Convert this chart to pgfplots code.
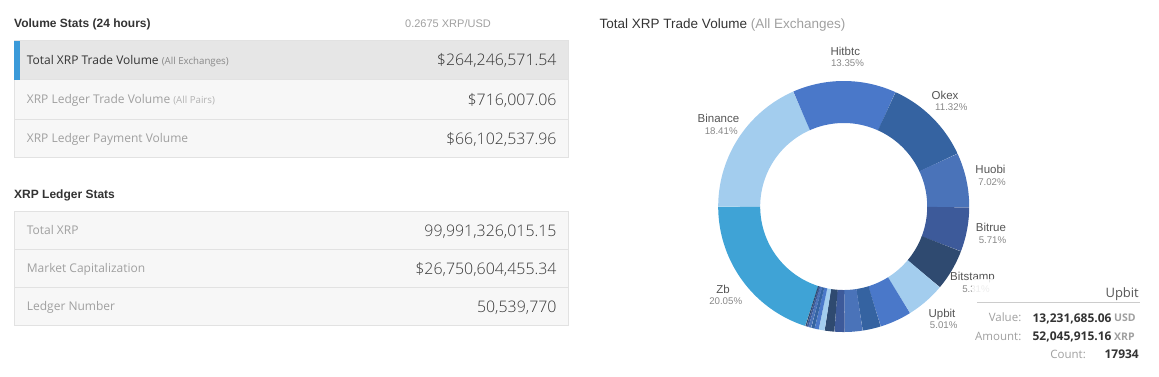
\documentclass[border=0pt]{standalone}
\usepackage{fontspec}
\setmainfont{Open Sans}
\newfontfamily\arialf{Liberation Sans}
\newfontfamily\lightf{Open Sans Light}
\usepackage{pgfplots}
\pgfplotsset{compat=1.18}
\definecolor{c0}{HTML}{3FA3D6}
\definecolor{c1}{HTML}{A3CDEE}
\definecolor{c2}{HTML}{4A78C9}
\definecolor{c3}{HTML}{3563A1}
\definecolor{c4}{HTML}{4A73B9}
\definecolor{c5}{HTML}{3D5A9A}
\definecolor{c6}{HTML}{2F4A70}
\definecolor{rowbg}{HTML}{F7F7F7}
\definecolor{actbg}{HTML}{E6E6E6}
\definecolor{bord}{HTML}{E2E2E2}
\definecolor{barblue}{HTML}{3B9AD9}
\definecolor{tdark}{HTML}{333333}
\definecolor{tval}{HTML}{3A3A3A}
\definecolor{tgray}{HTML}{A0A0A0}
\definecolor{tlab}{HTML}{555555}
\definecolor{tpct}{HTML}{888888}
\newcommand\fs[1]{\fontsize{#1}{#1}\selectfont}
\begin{document}
\begin{tikzpicture}[x=1pt,y=-1pt]
\path[use as bounding box] (0,0) rectangle (1159,376);
% ---------- left panel ----------
\node[anchor=base west,inner sep=0,text=tdark] at (14,27.3) {\arialf\bfseries\fs{12}Volume Stats (24 hours)};
\node[anchor=base west,inner sep=0,text=tgray] at (405,27.9) {\arialf\fs{11}0.2675 XRP/USD};
\fill[rowbg] (14.5,40.5) rectangle (568.5,157.5);
\fill[actbg] (14.5,40.5) rectangle (568.5,79.5);
\draw[bord] (14.5,40.5) rectangle (568.5,157.5);
\draw[bord] (14.5,79.5) -- (568.5,79.5);
\draw[bord] (14.5,119.5) -- (568.5,119.5);
\fill[barblue] (14,40.5) rectangle (19.5,79.5);
\node[anchor=base west,inner sep=0,text=tdark] at (26.7,64.3) {\fs{12}Total XRP Trade Volume {\color{tpct}\fs{9.7}(All Exchanges)}};
\node[anchor=base west,inner sep=0,text=tgray] at (26.7,103.6) {\fs{12}XRP Ledger Trade Volume {\color{tgray!80}\fs{9.7}(All Pairs)}};
\node[anchor=base west,inner sep=0,text=tgray] at (26.7,142.6) {\fs{12}XRP Ledger Payment Volume};
\node[anchor=base east,inner sep=0,text=tdark] at (556.7,65.7) {\lightf\fs{15.9}\$264,246,571.54};
\node[anchor=base east,inner sep=0,text=tval] at (556.7,105) {\lightf\fs{15.9}\$716,007.06};
\node[anchor=base east,inner sep=0,text=tval] at (556.7,144) {\lightf\fs{15.9}\$66,102,537.96};
\node[anchor=base west,inner sep=0,text=tdark] at (14,198.3) {\arialf\bfseries\fs{12}XRP Ledger Stats};
\fill[rowbg] (14.5,211.5) rectangle (568.5,325.5);
\draw[bord] (14.5,211.5) rectangle (568.5,325.5);
\draw[bord] (14.5,249.5) -- (568.5,249.5);
\draw[bord] (14.5,287.5) -- (568.5,287.5);
\node[anchor=base west,inner sep=0,text=tgray] at (26.7,234.6) {\fs{12}Total XRP};
\node[anchor=base west,inner sep=0,text=tgray] at (26.7,272.6) {\fs{12}Market Capitalization};
\node[anchor=base west,inner sep=0,text=tgray] at (26.7,310.6) {\fs{12}Ledger Number};
\node[anchor=base east,inner sep=0,text=tval] at (556.7,236) {\lightf\fs{15.9}99,991,326,015.15};
\node[anchor=base east,inner sep=0,text=tval] at (556.7,274) {\lightf\fs{15.9}\$26,750,604,455.34};
\node[anchor=base east,inner sep=0,text=tval] at (556.7,312) {\lightf\fs{15.9}50,539,770};
% ---------- donut ----------
\node[anchor=base west,inner sep=0,text=tdark] at (599.5,28.8) {\arialf\fs{13.5}Total XRP Trade Volume {\color{tgray}(All Exchanges)}};
\begin{axis}[at={(843.7pt,-206.5pt)}, anchor=origin, x=125.5pt, y=125.5pt,
  xmin=-1, xmax=1, ymin=-1, ymax=1, hide axis, clip=false]
\xdef\cum{0}
\foreach \p/\c in {20.05/c0, 18.41/c1, 13.35/c2, 11.32/c3, 7.02/c4, 5.71/c5, 5.31/c6, 5.01/c1,
                   4.10/c2, 2.35/c3, 2.30/c4, 1.30/c5, 1.25/c6, 0.75/c1, 0.55/c2, 0.45/c3, 0.35/c4, 0.25/c5, 0.17/c6}{
  \pgfmathsetmacro\a{252.18-3.6*\cum}
  \pgfmathsetmacro\b{252.18-3.6*(\cum+\p)}
  \pgfmathtruncatemacro\n{max(2,ceil(3.6*\p)+2)}
  \edef\tmp{\noexpand\addplot[draw=\c, line width=42pt, domain=\b:\a, samples=\n] ({0.8327*cos(x)},{0.8327*sin(x)});}
  \tmp
  \pgfmathsetmacro\cc{\cum+\p}
  \xdef\cum{\cc}
}
\end{axis}
% data labels
\node[anchor=base,inner sep=0,text=tlab] at (845.3,55.8) {\arialf\fs{11.5}Hitbtc};
\node[anchor=base,inner sep=0,text=tpct] at (847.5,66.8) {\arialf\fs{9.7}13.35\%};
\node[anchor=base,inner sep=0,text=tlab] at (945,99.1) {\arialf\fs{11.5}Okex};
\node[anchor=base,inner sep=0,text=tpct] at (951.3,110.2) {\arialf\fs{9.7}11.32\%};
\node[anchor=base,inner sep=0,text=tlab] at (718.5,122.6) {\arialf\fs{11.5}Binance};
\node[anchor=base,inner sep=0,text=tpct] at (721.2,134.2) {\arialf\fs{9.7}18.41\%};
\node[anchor=base,inner sep=0,text=tlab] at (990.5,173.6) {\arialf\fs{11.5}Huobi};
\node[anchor=base,inner sep=0,text=tpct] at (992,185) {\arialf\fs{9.7}7.02\%};
\node[anchor=base,inner sep=0,text=tlab] at (991,231.1) {\arialf\fs{11.5}Bitrue};
\node[anchor=base,inner sep=0,text=tpct] at (992.5,243.5) {\arialf\fs{9.7}5.71\%};
\node[anchor=base,inner sep=0,text=tlab] at (972.5,280.8) {\arialf\fs{11.5}Bitstamp};
\node[anchor=base,inner sep=0,text=tpct] at (976,292.5) {\arialf\fs{9.7}5.31\%};
\node[anchor=base,inner sep=0,text=tlab] at (942,317.1) {\arialf\fs{11.5}Upbit};
\node[anchor=base,inner sep=0,text=tpct] at (943.7,328.8) {\arialf\fs{9.7}5.01\%};
\node[anchor=base,inner sep=0,text=tlab] at (723,293.1) {\arialf\fs{11.5}Zb};
\node[anchor=base,inner sep=0,text=tpct] at (725.7,304.2) {\arialf\fs{9.7}20.05\%};
% tooltip
\fill[white,opacity=0.85] (972,279) rectangle (1152,368);
\node[anchor=base east,inner sep=0,text=tlab] at (1139,297.9) {\fs{13}Upbit};
\draw[black!20] (977,302.5) -- (1140,302.5);
\node[anchor=base east,inner sep=0,text=tgray] at (1021.5,321.8) {\fs{11.5}Value:};
\node[anchor=base east,inner sep=0,text=tdark] at (1111.7,322) {\bfseries\fs{12}13,231,685.06};
\node[anchor=base west,inner sep=0,text=tgray] at (1114,321.8) {\bfseries\fs{10.5}USD};
\node[anchor=base east,inner sep=0,text=tgray] at (1021.5,340.3) {\fs{11.5}Amount:};
\node[anchor=base east,inner sep=0,text=tdark] at (1111.7,340.5) {\bfseries\fs{12}52,045,915.16};
\node[anchor=base west,inner sep=0,text=tgray] at (1114,340.3) {\bfseries\fs{10.5}XRP};
\node[anchor=base east,inner sep=0,text=tgray] at (1086,358.3) {\fs{11.5}Count:};
\node[anchor=base east,inner sep=0,text=tdark] at (1139,358.5) {\bfseries\fs{12}17934};
\end{tikzpicture}
\end{document}
